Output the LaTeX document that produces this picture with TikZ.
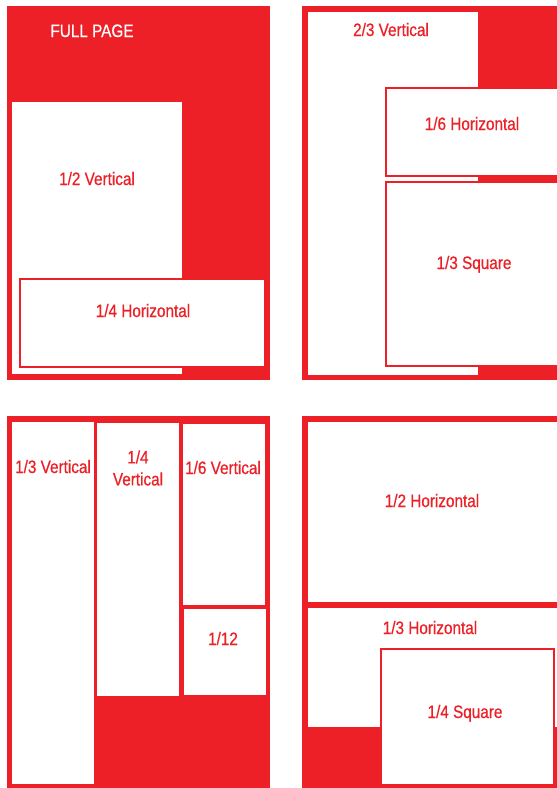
\documentclass[tikz,border=0pt]{standalone}
\usepackage{fontspec}
\setmainfont{Liberation Sans}[FakeStretch=0.85, FakeBold=0.6]
\usepackage{xcolor}
\definecolor{adred}{HTML}{ED2027}

\begin{document}
\begin{tikzpicture}[x=1pt, y=-1pt,
  font=\fontsize{18}{22}\selectfont,
  page/.style={fill=adred},
  slot/.style={fill=white},
  framedslot/.style={fill=white, draw=adred, line width=2pt},
  slottext/.style={text=adred, anchor=base, inner sep=0pt, align=center},
  ]
  \useasboundingbox (0,0) rectangle (557,788);
  \clip (0,0) rectangle (557,788);

  \fill[page] (7,6) rectangle (270,380);
  \path[slot] (12,102) rectangle (182,374);
  \path[framedslot] (19.5,279) rectangle (265,366.5);
  \node[slottext, text=white] (full) at (92,37) {FULL PAGE};
  \node[slottext] (halfv) at (97,185) {1/2 Vertical};
  \node[slottext] (quarterh) at (143,317) {1/4 Horizontal};

  \fill[page] (302,6) rectangle (557,380);
  \path[slot] (308,12) rectangle (478,375);
  \path[framedslot] (385.5,88) rectangle (562,176);
  \path[framedslot] (385.5,182) rectangle (562,365.5);
  \node[slottext] (twothirdv) at (391,36) {2/3 Vertical};
  \node[slottext] (sixthh) at (472,130) {1/6 Horizontal};
  \node[slottext] (thirdsq) at (474,269) {1/3 Square};

  \fill[page] (7,416) rectangle (270,790);
  \path[slot] (12,422) rectangle (94,784);
  \path[slot] (97,423) rectangle (179,696);
  \path[slot] (183,424) rectangle (265,605);
  \path[slot] (184,609) rectangle (266,695);
  \node[slottext] (thirdv) at (53,473) {1/3 Vertical};
  \node[slottext, anchor=center] (quarterv) at (138,468) {1/4\\Vertical};
  \node[slottext] (sixthv) at (223,474) {1/6 Vertical};
  \node[slottext] (twelfth) at (223,645) {1/12};

  \fill[page] (302,416) rectangle (557,790);
  \path[slot] (308,422) rectangle (562,602);
  \path[slot] (308,608) rectangle (562,727);
  \path[framedslot] (381,649) rectangle (554,785);
  \node[slottext] (halfh) at (432,507) {1/2 Horizontal};
  \node[slottext] (thirdh) at (430,634) {1/3 Horizontal};
  \node[slottext] (quartersq) at (465,718) {1/4 Square};
\end{tikzpicture}
\end{document}
